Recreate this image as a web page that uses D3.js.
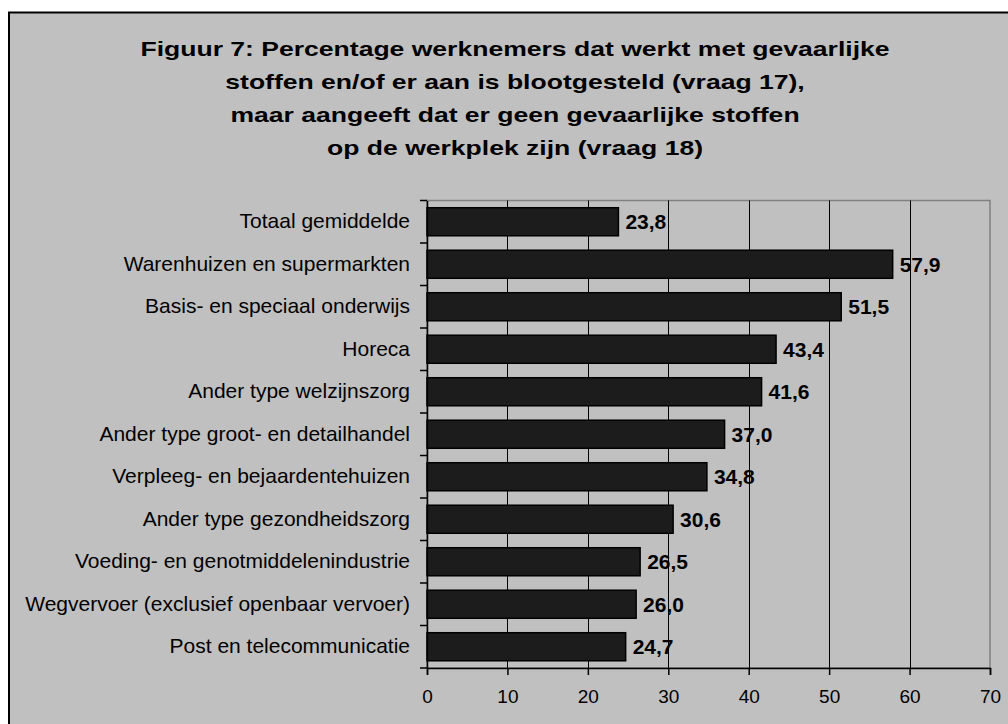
<!DOCTYPE html>
<html><head><meta charset="utf-8">
<script src="https://cdn.jsdelivr.net/npm/d3@7"></script>
<style>html,body{margin:0;padding:0;background:#fff;overflow:hidden}</style>
</head><body>
<svg id="c" width="1008" height="724"></svg>
<script>
const titleLines = [
  "Figuur 7: Percentage werknemers dat werkt met gevaarlijke",
  "stoffen en/of er aan is blootgesteld (vraag 17),",
  "maar aangeeft dat er geen gevaarlijke stoffen",
  "op de werkplek zijn (vraag 18)"
];
const categories = [
  "Totaal gemiddelde",
  "Warenhuizen en supermarkten",
  "Basis- en speciaal onderwijs",
  "Horeca",
  "Ander type welzijnszorg",
  "Ander type groot- en detailhandel",
  "Verpleeg- en bejaardentehuizen",
  "Ander type gezondheidszorg",
  "Voeding- en genotmiddelenindustrie",
  "Wegvervoer (exclusief openbaar vervoer)",
  "Post en telecommunicatie"
];
const values = [23.8, 57.9, 51.5, 43.4, 41.6, 37.0, 34.8, 30.6, 26.5, 26.0, 24.7];
const xTicks = [0, 10, 20, 30, 40, 50, 60, 70];
const valueLabels = ["23,8","57,9","51,5","43,4","41,6","37,0","34,8","30,6","26,5","26,0","24,7"];

const svg = d3.select("#c");
const font = "Liberation Sans, Arial, sans-serif";
// outer chart area
svg.append("rect").attr("x", 9).attr("y", 12.5).attr("width", 1010).attr("height", 730)
  .attr("fill", "#c0c0c0").attr("stroke", "#000").attr("stroke-width", 2);

const L = 427, R = 990, T = 200.5, B = 668;
const x = d3.scaleLinear().domain([0, 70]).range([L, R]);
const y = d3.scaleBand().domain(categories).range([T, B]).paddingInner(0.34).paddingOuter(0.17);

// plot border (gray)
svg.append("rect").attr("x", L).attr("y", T).attr("width", R - L).attr("height", B - T)
  .attr("fill", "none").attr("stroke", "#808080").attr("stroke-width", 1.5);

// gridlines
svg.append("g").selectAll("line").data(xTicks.filter(d => d > 0 && d < 70)).join("line")
  .attr("x1", d => Math.round(x(d)) + 0.5).attr("x2", d => Math.round(x(d)) + 0.5)
  .attr("y1", T).attr("y2", B).attr("stroke", "#000").attr("stroke-width", 1);

// title (horizontally widened to match the reference lettering)
const titleCx = 515;
svg.append("g").attr("transform", `translate(${titleCx},0) scale(1.264,1)`)
  .selectAll("text").data(titleLines).join("text")
  .attr("x", 0).attr("y", (d, i) => 56.5 + i * 32.8)
  .attr("text-anchor", "middle").attr("font-family", font).attr("font-weight", "bold")
  .attr("font-size", 21).attr("fill", "#000").text(d => d);

// bars
svg.append("g").selectAll("rect").data(values).join("rect")
  .attr("x", L).attr("y", (d, i) => y(categories[i]))
  .attr("width", d => x(d) - L).attr("height", y.bandwidth())
  .attr("fill", "#1c1c1c").attr("stroke", "#000").attr("stroke-width", 1.5);

// value labels
svg.append("g").selectAll("text").data(values).join("text")
  .attr("x", d => x(d) + 7).attr("y", (d, i) => y(categories[i]) + y.bandwidth() / 2)
  .attr("dy", "0.36em").attr("font-family", font).attr("font-weight", "bold")
  .attr("font-size", 21).attr("fill", "#000").text((d, i) => valueLabels[i]);

// y axis
const yAxis = d3.axisLeft(y).tickSize(0).tickPadding(17);
const gy = svg.append("g").attr("transform", `translate(${L},0)`).call(yAxis);
gy.select(".domain").attr("stroke", "#000").attr("stroke-width", 1.5);
gy.selectAll("text").attr("font-family", font).attr("font-size", 21).attr("fill", "#000");
// category boundary ticks
const bounds = d3.range(categories.length + 1).map(i => T + i * (B - T) / categories.length);
svg.append("g").selectAll("line").data(bounds).join("line")
  .attr("x1", L - 7).attr("x2", L).attr("y1", d => d).attr("y2", d => d)
  .attr("stroke", "#000").attr("stroke-width", 1.5);

// x axis
const xAxis = d3.axisBottom(x).tickValues(xTicks).tickSize(7).tickPadding(14.5).tickFormat(d3.format("d"));
const gx = svg.append("g").attr("transform", `translate(0,${B})`).call(xAxis);
gx.select(".domain").attr("stroke", "#000").attr("stroke-width", 1.5);
gx.selectAll(".tick line").attr("stroke", "#000").attr("stroke-width", 1.5);
gx.selectAll("text").attr("font-family", font).attr("font-size", 19).attr("fill", "#000");
</script>
</body></html>
